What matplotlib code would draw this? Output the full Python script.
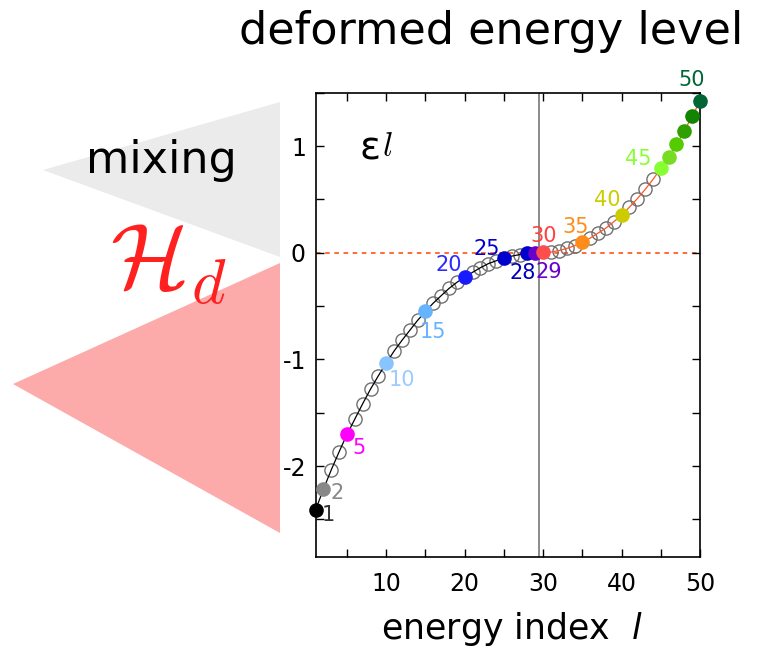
import numpy as np
import matplotlib
matplotlib.use("Agg")
import matplotlib.pyplot as plt
from matplotlib.patches import Polygon
from matplotlib.ticker import MultipleLocator

plt.rcParams['font.family'] = ['DejaVu Sans']
plt.rcParams['axes.unicode_minus'] = False
plt.rcParams['mathtext.fontset'] = 'dejavusans'

# deformed single-particle levels eps_l, l = 1..50
levels = np.arange(1, 51)
eps = [-2.41, -2.215, -2.034, -1.865, -1.703, -1.559, -1.415, -1.278, -1.153, -1.035,
       -0.922, -0.822, -0.728, -0.634, -0.550, -0.472, -0.403, -0.335, -0.278, -0.228,
       -0.184, -0.141, -0.103, -0.076, -0.048, -0.032, -0.018, -0.006, 0.0, 0.002,
       0.006, 0.020, 0.040, 0.065, 0.100, 0.137, 0.184, 0.231, 0.290, 0.352,
       0.427, 0.506, 0.593, 0.687, 0.790, 0.896, 1.015, 1.143, 1.280, 1.421]
eps = np.array(eps)

# highlighted levels and their colours
marked = [1, 2, 5, 10, 15, 20, 25, 28, 29, 30, 35, 40, 45, 46, 47, 48, 49, 50]
marked_colors = ['#000000', '#888888', '#ff00ff', '#88c4ff', '#66b3ff', '#1a1aff',
                 '#0000cc', '#0000cc', '#6a00cc', '#ff4d4d', '#ff8c1a', '#cccc00',
                 '#88ff33', '#77dd22', '#55cc00', '#2fa000', '#128500', '#006633']

# labelled levels: colour and offset of the number (points)
labelled = [1, 2, 5, 10, 15, 20, 25, 28, 29, 30, 35, 40, 45, 50]
label_colors = ['#333333', '#888888', '#ff00ff', '#99ccff', '#66b3ff', '#2b2bff',
                '#0000cc', '#0000bb', '#6a00cc', '#ff4040', '#ff8c1a', '#cccc00',
                '#88ff33', '#006633']
label_offsets = [(4, -4, 'left'), (5, -3, 'left'), (4, -10, 'left'), (2, -12, 'left'),
                 (-4, -15, 'left'), (-2, 9, 'right'), (-3, 6, 'right'), (6, -14, 'right'),
                 (0, -14, 'left'), (0, 12, 'center'), (-5, 11, 'center'),
                 (-10, 11, 'center'), (-7, 7, 'right'), (-6, 15, 'center')]

fig = plt.figure(figsize=(7.68, 6.5), dpi=100)
ax = fig.add_axes([0.411, 0.1435, 0.5005, 0.7139])

# level curve: lower branch black, upper branch orange-red
lo = levels <= 29
hi = levels >= 29
ax.plot(levels[lo], eps[lo], color='black', lw=0.9, zorder=3, clip_on=False)
ax.plot(levels[hi], eps[hi], color='#ff5522', lw=0.9, zorder=3, clip_on=False)

plain = ~np.isin(levels, marked)
ax.plot(levels[plain], eps[plain], ls='', marker='o', ms=9.5, mfc='none',
        mec='#707070', mew=1.0, zorder=2)
for l, c in zip(marked, marked_colors):
    ax.plot(l, eps[l - 1], ls='', marker='o', ms=9.5, mfc=c, mec=c, zorder=4,
            clip_on=False)

for (l, c, (dx, dy, ha)) in zip(labelled, label_colors, label_offsets):
    ax.annotate(str(l), (l, eps[l - 1]), xytext=(dx, dy), textcoords='offset points',
                ha=ha, va='center', color=c, fontsize=15, zorder=5)

ax.axhline(0, color='#ff4400', lw=1.1, ls=(0, (3, 3)), zorder=1)
ax.axvline(29.5, color='#777777', lw=1.2, zorder=1)

ax.set_xlim(1, 50)
ax.set_ylim(-2.85, 1.5)
ax.xaxis.set_major_locator(MultipleLocator(10))
ax.xaxis.set_minor_locator(MultipleLocator(5))
ax.yaxis.set_major_locator(MultipleLocator(1))
ax.yaxis.set_minor_locator(MultipleLocator(0.5))
ax.tick_params(which='both', direction='in', top=True, right=True, length=6,
               width=1.0, labelsize=17)
ax.tick_params(axis='x', pad=11)
ax.tick_params(axis='y', pad=7)
for s in ax.spines.values():
    s.set_linewidth(1.2)

ax.text(0.115, 0.88, 'ε', transform=ax.transAxes, fontsize=28, va='center')
ax.text(0.172, 0.884, '$l$', transform=ax.transAxes, fontsize=24, va='center',
        math_fontfamily='cm')
fig.text(0.667, 0.032, 'energy index  $l$', ha='center', va='center', fontsize=25)
fig.text(0.639, 0.952, 'deformed energy level', ha='center', va='center', fontsize=32)

# side triangles with the mixing annotation
W, H = 768.0, 650.0
def fig_pts(pts):
    return [(x / W, 1 - y / H) for x, y in pts]

fig.patches.append(Polygon(fig_pts([(43, 170), (280, 102), (280, 257)]),
                           closed=True, transform=fig.transFigure,
                           facecolor='#ebebeb', edgecolor='none', zorder=0))
fig.patches.append(Polygon(fig_pts([(13, 384), (280, 263), (280, 533)]),
                           closed=True, transform=fig.transFigure,
                           facecolor='#fcaaaa', edgecolor='none', zorder=0))
fig.text(161 / W, 1 - 160 / H, 'mixing', ha='center', va='center', fontsize=32)
fig.text(168 / W, 1 - 262 / H, r'$\mathcal{H}_d$', ha='center', va='center',
         fontsize=66, color='#ff2020', math_fontfamily='cm')

fig.savefig('out.png', dpi=100)
